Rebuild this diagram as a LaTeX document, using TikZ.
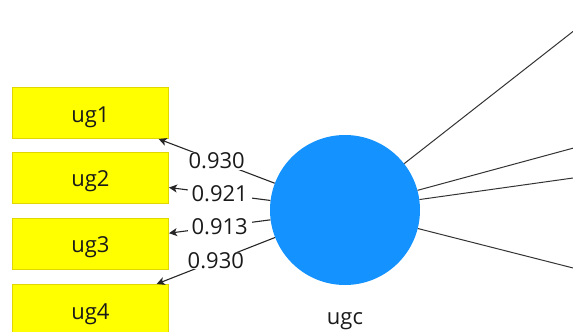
\documentclass[tikz,border=0pt]{standalone}
\usepackage{fontspec}
\setmainfont{Open Sans}
\usetikzlibrary{arrows.meta}
\definecolor{boxfill}{RGB}{255,255,0}
\definecolor{boxline}{RGB}{225,215,0}
\definecolor{lvblue}{RGB}{20,146,255}
\definecolor{txt}{RGB}{26,26,26}
\begin{document}
\begin{tikzpicture}[x=1pt,y=-1pt,
  indbox/.style={draw=boxline,fill=boxfill,line width=1pt,minimum width=156pt,minimum height=51pt,inner sep=0pt,text height=22pt,text depth=4pt,font=\fontsize{22}{26}\selectfont,text=txt},
  latent/.style={circle,fill=lvblue,minimum size=150pt,inner sep=0pt},
  loadarrow/.style={draw=black!85,line width=1.1pt,-{Stealth[length=8pt,width=8pt,inset=2pt]}},
  pathline/.style={draw=black!80,line width=1pt},
  loadlabel/.style={fill=white,inner xsep=4pt,inner ysep=0.5pt,font=\fontsize{22}{26}\selectfont,text=txt}]
\useasboundingbox (0,0) rectangle (573,332);
\node[latent,label={[label distance=24pt,font=\fontsize{22}{26}\selectfont,text=txt]below:ugc}] (ugc) at (345,210) {};
\node[indbox] (ug1) at (90.5,113) {ug1};
\node[indbox] (ug2) at (90.5,177.5) {ug2};
\node[indbox] (ug3) at (90.5,243.5) {ug3};
\node[indbox] (ug4) at (90.5,310) {ug4};
\draw[loadarrow] (ugc) -- node[loadlabel] {0.930} (ug1);
\draw[loadarrow] (ugc) -- node[loadlabel] {0.921} (ug2);
\draw[loadarrow] (ugc) -- node[loadlabel] {0.913} (ug3);
\draw[loadarrow] (ugc) -- node[loadlabel] {0.930} (ug4);
\coordinate (c1) at (640,-21);
\coordinate (c2) at (640,130);
\coordinate (c3) at (640,168.6);
\coordinate (c4) at (640,285);
\draw[pathline] (ugc) -- (c1);
\draw[pathline] (ugc) -- (c2);
\draw[pathline] (ugc) -- (c3);
\draw[pathline] (ugc) -- (c4);
\end{tikzpicture}
\end{document}
